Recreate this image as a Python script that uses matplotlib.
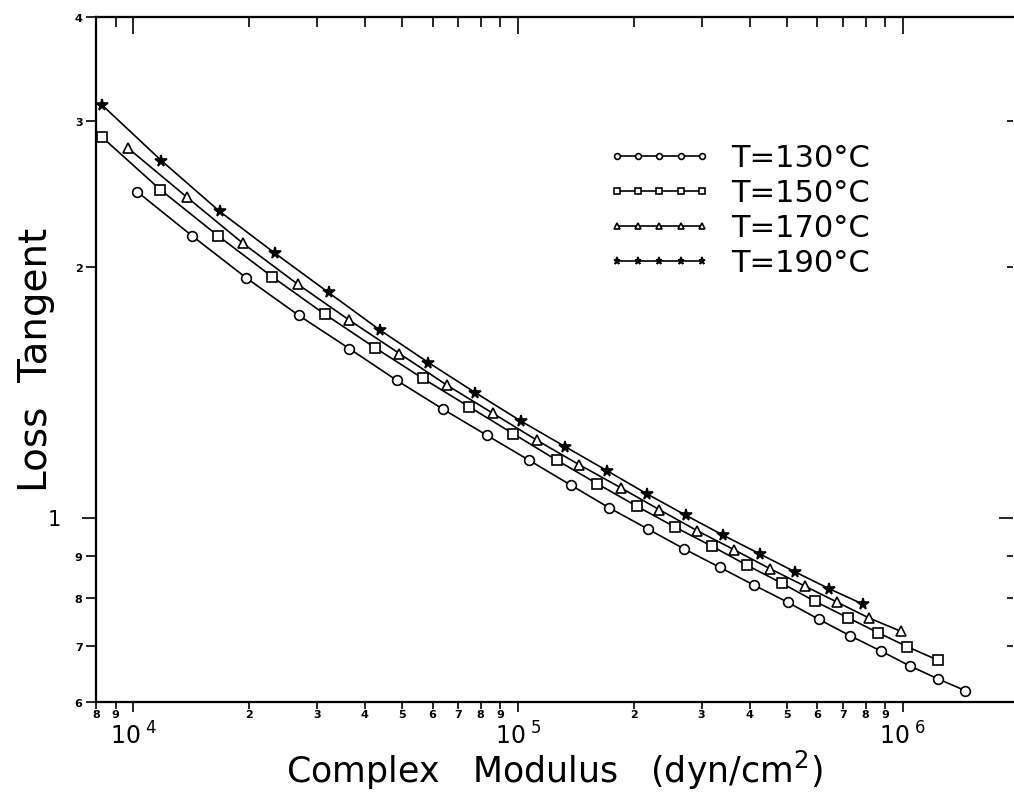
import numpy as np
import matplotlib.pyplot as plt
from matplotlib.ticker import FixedLocator, FixedFormatter

# complex modulus (dyn/cm^2) and loss tangent
mod_130 = [10230, 14210, 19660, 26880, 36390, 48400, 63970, 82930, 106800, 137100,
           172700, 217200, 269900, 334600, 411000, 501800, 606100, 728400, 876900,
           1043000, 1231000, 1455000]
tan_130 = [2.466, 2.182, 1.942, 1.751, 1.597, 1.462, 1.349, 1.256, 1.172, 1.094,
           1.027, 0.969, 0.917, 0.871, 0.829, 0.791, 0.754, 0.721, 0.691,
           0.663, 0.640, 0.619]

mod_150 = [8291, 11750, 16600, 22960, 31400, 42520, 56560, 74600, 97220, 126100,
           160700, 203400, 255700, 318500, 394000, 484100, 590600, 718500, 862800,
           1028000, 1231000]
tan_150 = [2.868, 2.480, 2.182, 1.948, 1.757, 1.600, 1.470, 1.359, 1.261, 1.172,
           1.098, 1.032, 0.974, 0.924, 0.876, 0.834, 0.793, 0.758, 0.727,
           0.699, 0.674]

mod_170 = [9688, 13790, 19230, 26720, 36460, 49160, 65290, 85960, 111800, 144000,
           184900, 232800, 292300, 363900, 451300, 556600, 675100, 817600, 986300]
tan_170 = [2.782, 2.428, 2.139, 1.909, 1.727, 1.575, 1.443, 1.335, 1.239, 1.158,
           1.086, 1.022, 0.964, 0.915, 0.868, 0.827, 0.791, 0.757, 0.730]

mod_190 = [8291, 11820, 16760, 23380, 32160, 43820, 58480, 77460, 101800, 132500,
           170000, 216000, 273200, 341500, 425200, 525300, 643700, 786000]
tan_190 = [3.135, 2.688, 2.335, 2.078, 1.865, 1.680, 1.536, 1.413, 1.306, 1.217,
           1.139, 1.068, 1.006, 0.952, 0.904, 0.860, 0.821, 0.787]

labels = ['T=130°C', 'T=150°C', 'T=170°C', 'T=190°C']

x_major = [1e4, 1e5, 1e6]
x_major_labels = ['10$^{\\ 4}$', '10$^{\\ 5}$', '10$^{\\ 6}$']
x_minor = [8e3, 9e3] + [k * 10.0**d for d in (4, 5) for k in range(2, 10)]
x_minor_labels = ['8', '9'] + [str(k) for d in (4, 5) for k in range(2, 10)]
y_major = [1]
y_minor = [0.6, 0.7, 0.8, 0.9, 2, 3, 4]
y_minor_labels = ['6', '7', '8', '9', '2', '3', '4']

fig = plt.figure(figsize=(10.14, 7.94), dpi=100)
ax = fig.add_axes([0.0947, 0.1159, 0.904, 0.8627])

styles = [dict(marker='o', ms=7, mfc='white'),
          dict(marker='s', ms=6.5, mfc='white'),
          dict(marker='^', ms=7, mfc='white'),
          dict(marker='*', ms=8.5, mfc='black')]
data = [(mod_130, tan_130), (mod_150, tan_150), (mod_170, tan_170), (mod_190, tan_190)]
for (x, y), st, lab in zip(data, styles, labels):
    ax.plot(x, y, '-', color='black', lw=1.2, mec='black', mew=1.2, label=lab, **st)

ax.set_xscale('log')
ax.set_yscale('log')
ax.set_xlim(8000, 1.93e6)
ax.set_ylim(0.6, 4)

ax.xaxis.set_major_locator(FixedLocator(x_major))
ax.xaxis.set_major_formatter(FixedFormatter(x_major_labels))
ax.xaxis.set_minor_locator(FixedLocator(x_minor))
ax.xaxis.set_minor_formatter(FixedFormatter(['$\\mathbf{%s}$' % s for s in x_minor_labels]))
ax.yaxis.set_major_locator(FixedLocator(y_major))
ax.yaxis.set_major_formatter(FixedFormatter(['1']))
ax.yaxis.set_minor_locator(FixedLocator(y_minor))
ax.yaxis.set_minor_formatter(FixedFormatter(['$\\mathbf{%s}$' % s for s in y_minor_labels]))

ax.tick_params(which='both', direction='out', top=False, right=False, width=1.2)
ax.tick_params(axis='x', which='major', length=7, pad=8, labelsize=17)
ax.tick_params(axis='x', which='minor', length=5, pad=-1, labelsize=8)
ax.tick_params(axis='y', which='major', length=10, pad=15, labelsize=15)
ax.tick_params(axis='y', which='minor', length=7, pad=2, labelsize=8)

# inward ticks on top and right
axt = ax.twiny()
axt.set_xscale('log')
axt.set_xlim(ax.get_xlim())
axt.xaxis.set_major_locator(FixedLocator(x_major))
axt.xaxis.set_minor_locator(FixedLocator(x_minor))
axt.tick_params(which='both', direction='in', labeltop=False, width=1.2)
axt.tick_params(which='major', length=12)
axt.tick_params(which='minor', length=7)
axr = ax.twinx()
axr.set_yscale('log')
axr.set_ylim(ax.get_ylim())
axr.yaxis.set_major_locator(FixedLocator(y_major))
axr.yaxis.set_minor_locator(FixedLocator(y_minor))
axr.tick_params(which='both', direction='in', labelright=False, width=1.2)
axr.tick_params(which='major', length=10)
axr.tick_params(which='minor', length=4)

for a in (ax, axt, axr):
    for s in a.spines.values():
        s.set_linewidth(1.5)
    a.spines['right'].set_visible(False)

ax.set_xlabel('Complex   Modulus   (dyn/cm$^{2}$)', fontsize=25)
ax.set_ylabel('Loss  Tangent', fontsize=28)
ax.xaxis.set_label_coords(0.5, -0.069)
ax.yaxis.set_label_coords(-0.045, 0.5)

ax.legend(loc='upper left', bbox_to_anchor=(0.558, 0.815), frameon=False, fontsize=22,
          numpoints=5, markerscale=0.6, handlelength=3.4, handletextpad=0.65,
          labelspacing=0.2, borderpad=0, borderaxespad=0)

fig.savefig('out.png', dpi=100)
